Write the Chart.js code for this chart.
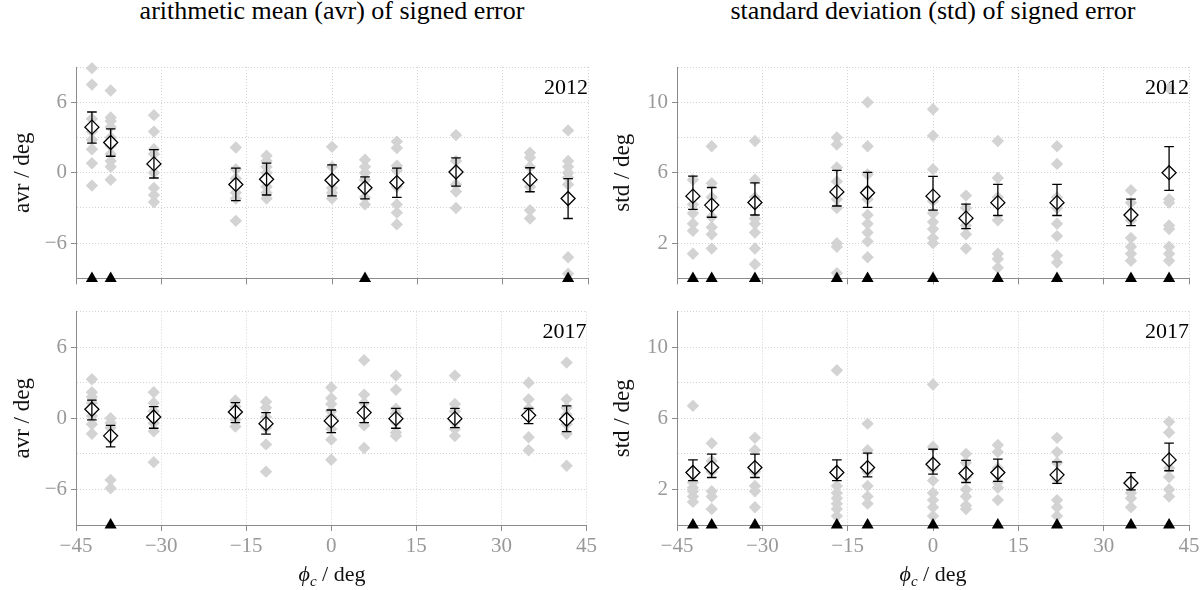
<!DOCTYPE html>
<html><head><meta charset="utf-8">
<script src="https://cdn.jsdelivr.net/npm/chart.js@4.4.1/dist/chart.umd.min.js"></script>
<style>
html,body{margin:0;padding:0;background:#fff;}
body{width:1204px;height:590px;position:relative;overflow:hidden;font-family:'Liberation Serif','Times New Roman',serif;}
canvas{position:absolute;}
.title{position:absolute;top:-4px;height:30px;line-height:30px;font-size:26px;color:#000;text-align:center;white-space:nowrap;}
.xt{position:absolute;top:562px;height:24px;line-height:24px;font-size:22px;color:#111;text-align:center;white-space:nowrap;}
.xt sub{font-size:15px;}
</style></head><body>
<div class="title" style="left:82px;width:500px">arithmetic mean (avr) of signed error</div>
<div class="title" style="left:683px;width:500px">standard deviation (std) of signed error</div>
<canvas id="c1" width="600" height="250" style="left:0;top:45px"></canvas>
<canvas id="c2" width="604" height="250" style="left:600px;top:45px"></canvas>
<canvas id="c3" width="600" height="295" style="left:0;top:295px"></canvas>
<canvas id="c4" width="604" height="295" style="left:600px;top:295px"></canvas>
<div class="xt" style="left:232px;width:200px"><i>ϕ<sub>c</sub></i> / deg</div>
<div class="xt" style="left:833px;width:200px"><i>ϕ<sub>c</sub></i> / deg</div>
<script>
// ---- data ----
const phiC = [-42.2, -38.9, -31.3, -16.9, -11.5, 0, 5.8, 11.4, 21.8, 34.8, 41.5];
const xTicks = [-45, -30, -15, 0, 15, 30, 45];
const years = ['2012', '2017'];

const avrRange = [-9, 9];
const avrGridTicks = [-9, -6, -3, 0, 3, 6, 9];
const avrLabelTicks = [-6, 0, 6];
const stdRange = [0, 12];
const stdGridTicks = [0, 2, 4, 6, 8, 10, 12];
const stdLabelTicks = [2, 6, 10];

// avr 2012
const avr2012Mean = [3.88, 2.57, 0.75, -1.0, -0.56, -0.64, -1.28, -0.84, 0.06, -0.59, -2.2];
const avr2012Hi   = [5.17, 3.74, 1.96, 0.39, 0.81, 0.67, -0.36, 0.39, 1.26, 0.42, -0.5];
const avr2012Lo   = [2.51, 1.40, -0.45, -2.37, -1.9, -1.98, -2.23, -2.1, -1.15, -1.62, -3.9];
const avr2012Runs = [
  [8.9, 7.5, 4.6, 3.5, 2.8, 2.0, 0.8, -1.1],
  [7.0, 4.7, 4.4, 3.9, 3.0, 2.3, 1.6, 1.0, 0.5, -0.6],
  [4.9, 3.5, 2.0, 1.6, 0.75, 0.0, -1.3, -1.9, -2.5],
  [2.15, 0.3, -0.5, -1.2, -1.7, -2.2, -4.1],
  [1.45, 1.0, 0.5, 0.0, -0.6, -1.2, -1.7, -2.2],
  [2.2, 0.5, -0.6, -1.3, -1.7, -2.2],
  [1.1, 0.5, 0.0, -0.6, -1.3, -2.1, -2.7],
  [2.65, 2.1, 0.6, 0.2, -0.8, -1.2, -2.7, -3.4, -4.4],
  [3.2, 1.0, 0.0, -1.0, -1.6, -3.0],
  [1.7, 1.3, 0.5, -0.6, -1.2, -3.2, -3.9],
  [3.6, 1.0, 0.5, 0.0, -0.4, -1.0, -7.2, -8.6]
];
const avr2012NoData = [-42.2, -38.9, 5.8, 41.5];

// avr 2017
const avr2017Mean = [0.76, -1.48, 0.11, 0.53, -0.45, -0.22, 0.48, -0.03, -0.03, 0.25, -0.08];
const avr2017Hi   = [1.54, -0.59, 0.98, 1.32, 0.48, 0.7, 1.32, 0.84, 0.84, 0.84, 1.04];
const avr2017Lo   = [-0.14, -2.41, -0.84, -0.36, -1.34, -1.2, -0.36, -0.84, -0.78, -0.45, -1.12];
const avr2017Runs = [
  [3.3, 2.2, 1.8, 1.3, 0.8, 0.2, -0.5, -1.3],
  [0.0, -0.4, -0.8, -1.7, -5.2, -5.9],
  [2.2, 1.3, 0.6, 0.1, -0.4, -1.1, -3.7],
  [1.5, 1.0, 0.5, -0.1, -0.7],
  [1.4, 0.9, 0.1, -0.8, -2.2, -4.5],
  [2.6, 1.7, 1.2, 0.6, 0.1, -0.9, -1.8, -3.5],
  [4.9, 2.0, 1.3, 0.5, -0.6, -2.5],
  [3.6, 2.4, 0.8, 0.4, -0.3, -1.2, -1.5],
  [3.6, 1.2, 0.6, -0.3, -0.9, -1.5],
  [3.0, 1.6, 0.8, 0.2, -1.6, -2.7],
  [4.7, 1.6, 0.9, 0.3, -0.5, -1.3, -4.0]
];
const avr2017NoData = [-38.9];

// std 2012
const std2012Mean = [4.67, 4.16, 4.31, 4.91, 4.86, 4.67, 3.42, 4.3, 4.3, 3.6, 6.0];
const std2012Hi   = [5.81, 5.16, 5.42, 6.13, 6.02, 5.79, 4.22, 5.34, 5.34, 4.5, 7.48];
const std2012Lo   = [3.92, 3.47, 3.6, 4.11, 4.03, 3.88, 2.82, 3.57, 3.57, 3.0, 5.0];
const std2012Runs = [
  [5.6, 4.2, 3.7, 3.1, 2.7, 1.4],
  [7.5, 5.4, 4.6, 3.5, 2.9, 2.5, 1.7],
  [7.8, 5.6, 4.6, 3.4, 3.1, 2.6, 1.7, 0.8],
  [8.0, 7.6, 6.3, 5.5, 4.5, 4.0, 2.0, 1.8, 0.3],
  [10.0, 7.5, 5.9, 5.0, 4.5, 3.6, 3.1, 2.6, 2.1, 1.2],
  [9.6, 8.1, 6.2, 4.4, 3.7, 3.2, 2.8, 2.3, 2.0],
  [4.7, 4.0, 3.0, 2.5, 1.7],
  [7.8, 5.7, 4.6, 3.3, 1.4, 1.1, 0.6],
  [7.5, 6.5, 4.6, 4.0, 3.1, 2.4, 1.3, 0.9],
  [5.0, 4.3, 3.3, 2.3, 1.8, 1.4, 1.0],
  [10.8, 4.5, 4.3, 3.0, 2.8, 1.8, 1.4, 1.0]
];
const std2012NoData = [-42.2, -38.9, -31.3, -16.9, -11.5, 0, 11.4, 21.8, 34.8, 41.5];

// std 2017
const std2017Mean = [2.95, 3.23, 3.23, 2.95, 3.23, 3.42, 2.9, 2.95, 2.82, 2.36, 3.66];
const std2017Hi   = [3.66, 3.98, 3.98, 3.66, 4.04, 4.26, 3.63, 3.7, 3.55, 2.95, 4.6];
const std2017Lo   = [2.49, 2.67, 2.67, 2.49, 2.71, 2.86, 2.39, 2.45, 2.34, 1.98, 3.05];
const std2017Runs = [
  [6.7, 2.4, 2.1, 1.9, 1.6, 1.3],
  [4.6, 3.6, 3.0, 1.9, 1.6, 0.9],
  [4.9, 4.2, 3.0, 2.2, 1.9, 1.0],
  [8.7, 2.2, 1.8, 1.5, 1.2, 0.9, 0.5],
  [5.7, 4.2, 3.0, 2.2, 1.6, 1.2],
  [7.9, 4.4, 3.2, 2.5, 1.8, 1.4, 1.0, 0.5],
  [4.0, 3.5, 2.7, 2.0, 1.6, 1.1, 0.9],
  [4.5, 4.1, 3.2, 2.4, 2.1, 1.4],
  [4.9, 4.1, 3.5, 2.6, 1.4, 1.0, 0.5],
  [1.8, 1.5, 1.0],
  [5.8, 5.2, 3.2, 2.7, 2.0, 1.6]
];
const std2017NoData = [-42.2, -38.9, -31.3, -16.9, -11.5, 0, 11.4, 21.8, 34.8, 41.5];

// ---- drawing ----
const FONT = "'Liberation Serif', 'Times New Roman', serif";
const AXIS = '#8c8c8c', GRID = '#d2d2d2', TICKTXT = '#999999', RUN = '#d3d3d3';
function fmt(v){ return v < 0 ? '\u2212' + Math.abs(v) : String(v); }

function build(id, p) {
  const datasets = [
    { label:'mean', data: phiC.map((x,i)=>({x, y:p.mean[i]})), pointStyle:'rectRot',
      pointRadius:7, pointHoverRadius:7, pointBackgroundColor:'#fff', pointBorderColor:'#000',
      pointBorderWidth:1.3, backgroundColor:'#fff', borderColor:'#000', showLine:false, clip:false, order:1 },
    { label:'no data', data: p.noData.map(x=>({x, y:p.range[0]})), pointStyle:'triangle',
      pointRadius:7, pointHoverRadius:7, pointBackgroundColor:'#000', pointBorderColor:'#000',
      pointBorderWidth:0, backgroundColor:'#000', borderColor:'#000', showLine:false, clip:false, order:2 },
    { label:'runs', data: p.runs.flatMap((arr,i)=>arr.map(v=>({x:phiC[i], y:v}))), pointStyle:'rectRot',
      pointRadius:6.2, pointHoverRadius:6.2, pointBackgroundColor:RUN, pointBorderColor:RUN,
      pointBorderWidth:0, backgroundColor:RUN, borderColor:RUN, showLine:false, clip:false, order:3 }
  ];
  const errPlugin = {
    id:'errorBars' + id,
    afterDatasetsDraw(chart){
      const ctx = chart.ctx, xs = chart.scales.x, ys = chart.scales.y;
      ctx.save(); ctx.strokeStyle = '#000'; ctx.lineWidth = 1.3;
      phiC.forEach((xv,i)=>{
        const px = xs.getPixelForValue(xv);
        const a = ys.getPixelForValue(p.lo[i]), b = ys.getPixelForValue(p.hi[i]);
        ctx.beginPath();
        ctx.moveTo(px, a); ctx.lineTo(px, b);
        ctx.moveTo(px-4.8, a); ctx.lineTo(px+4.8, a);
        ctx.moveTo(px-4.8, b); ctx.lineTo(px+4.8, b);
        ctx.stroke();
      });
      const ca = chart.chartArea;
      ctx.fillStyle = '#000'; ctx.font = '22px ' + FONT;
      ctx.textAlign = 'right'; ctx.textBaseline = 'middle';
      ctx.fillText(p.year, ca.right, ca.top + 21);
      ctx.restore();
    }
  };
  new Chart(document.getElementById(id), {
    type:'scatter',
    data:{datasets},
    options:{
      responsive:false, animation:false, events:[],
      layout:{padding:p.padding},
      plugins:{legend:{display:false}, tooltip:{enabled:false}},
      scales:{
        x:{type:'linear', min:-45, max:45,
          afterBuildTicks: s => { s.ticks = xTicks.map(v=>({value:v})); },
          afterFit: s => { s.height = p.xHeight; },
          grid:{color:GRID, lineWidth:1, tickLength:6, tickColor:AXIS, drawTicks:true},
          border:{display:true, color:AXIS, width:1, dash:[1,2]},
          ticks:{display:p.showX, autoSkip:false, maxRotation:0, padding:3, color:TICKTXT,
                 font:{family:FONT, size:21}, callback:v=>fmt(v)}
        },
        y:{type:'linear', min:p.range[0], max:p.range[1],
          afterBuildTicks: s => { s.ticks = p.gridTicks.map(v=>({value:v})); },
          afterFit: s => { s.width = p.yWidth; },
          grid:{color:GRID, lineWidth:1, tickLength:5, drawTicks:true,
                tickColor: c => (c.tick && p.labelTicks.includes(c.tick.value)) ? AXIS : 'rgba(0,0,0,0)'},
          border:{display:true, color:AXIS, width:1, dash:[1,2]},
          ticks:{autoSkip:false, padding:4, color:TICKTXT, font:{family:FONT, size:21},
                 callback:v => p.labelTicks.includes(v) ? fmt(v) : ''},
          title:{display:true, text:p.yTitle, color:'#111', font:{family:FONT, size:23}, padding:{top:9, bottom:0}}
        }
      }
    },
    plugins:[errPlugin]
  });
}

function renderAll(){
  Chart.defaults.font.family = FONT;
  build('c1', {mean:avr2012Mean, lo:avr2012Lo, hi:avr2012Hi, runs:avr2012Runs, noData:avr2012NoData,
    range:avrRange, gridTicks:avrGridTicks, labelTicks:avrLabelTicks, yTitle:'avr / deg', year:years[0],
    showX:false, xHeight:13, yWidth:76, padding:{left:0, top:22, right:12, bottom:0}});
  build('c2', {mean:std2012Mean, lo:std2012Lo, hi:std2012Hi, runs:std2012Runs, noData:std2012NoData,
    range:stdRange, gridTicks:stdGridTicks, labelTicks:stdLabelTicks, yTitle:'std / deg', year:years[0],
    showX:false, xHeight:13, yWidth:77, padding:{left:0, top:22, right:15, bottom:0}});
  build('c3', {mean:avr2017Mean, lo:avr2017Lo, hi:avr2017Hi, runs:avr2017Runs, noData:avr2017NoData,
    range:avrRange, gridTicks:avrGridTicks, labelTicks:avrLabelTicks, yTitle:'avr / deg', year:years[1],
    showX:true, xHeight:65, yWidth:76, padding:{left:0, top:15, right:12, bottom:0}});
  build('c4', {mean:std2017Mean, lo:std2017Lo, hi:std2017Hi, runs:std2017Runs, noData:std2017NoData,
    range:stdRange, gridTicks:stdGridTicks, labelTicks:stdLabelTicks, yTitle:'std / deg', year:years[1],
    showX:true, xHeight:65, yWidth:77, padding:{left:0, top:15, right:15, bottom:0}});
}
let done = false;
function go(){ if (!done){ done = true; renderAll(); } }
if (document.fonts && document.fonts.load) {
  Promise.all([document.fonts.load("21px 'Liberation Serif'"), document.fonts.load("italic 21px 'Liberation Serif'")])
    .then(go, go);
  setTimeout(go, 1500);
} else { go(); }
</script>
</body></html>
